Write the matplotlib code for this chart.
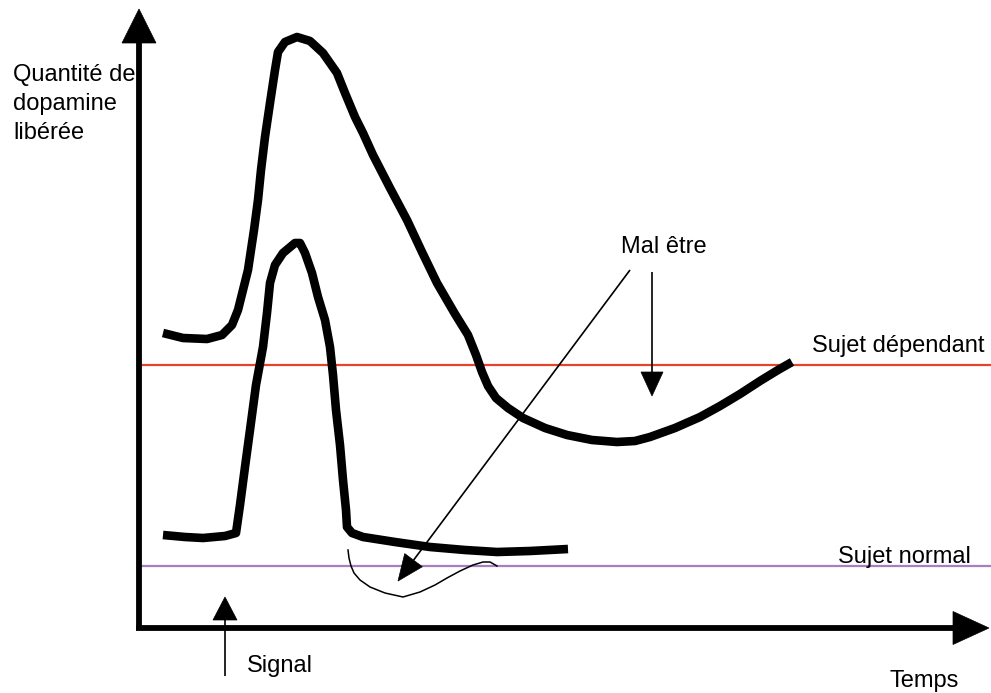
import matplotlib
matplotlib.use("Agg")
import matplotlib.pyplot as plt
from matplotlib.patches import Polygon
import numpy as np

# ---- data (pixel space of the 991x693 sketch) ----
dep_x = [163, 183, 207, 222, 232, 238, 243, 248, 251, 254, 258, 261, 265, 270, 275, 278, 285, 297, 310, 323, 337, 345, 355, 363, 373, 390, 407, 422, 437, 455, 468, 476, 482, 488, 496, 508, 523, 545, 567, 592, 617, 635, 650, 675, 700, 720, 740, 760, 778, 792]
dep_y = [333, 338, 339, 335, 325, 310, 290, 270, 250, 230, 200, 170, 137, 103, 70, 52, 42, 37, 41, 53, 73, 93, 117, 133, 155, 188, 220, 252, 283, 314, 335, 355, 372, 386, 398, 408, 418, 428, 435, 440, 442, 441, 437, 428, 417, 406, 394, 381, 370, 362]

norm_x = [163, 185, 203, 225, 236, 240, 245, 250, 256, 263, 267, 270, 275, 283, 295, 300, 305, 312, 318, 325, 330, 333, 336, 340, 343, 346, 347, 352, 363, 395, 430, 465, 497, 530, 568]
norm_y = [535, 537, 538, 536, 533, 505, 467, 430, 385, 347, 313, 283, 265, 253, 243, 243, 253, 273, 297, 320, 347, 375, 410, 445, 480, 510, 527, 533, 537, 542, 547, 550, 552, 551, 549]

wiggle_x = [348, 349, 351, 354, 360, 370, 385, 403, 420, 435, 447, 460, 473, 483, 490, 497]
wiggle_y = [550, 558, 566, 573, 580, 587, 593, 597, 592, 585, 578, 571, 565, 562, 562, 566]

level_dependant = 365
level_normal = 566
line_x_range = [138, 991]

y_axis = {"x": 139, "y0": 630, "tip": 9}
x_axis = {"y": 628, "x0": 136, "tip": 989}

arrow_diag = [(630, 270), (398, 581)]
arrow_vert = [(652, 272), (652, 396)]
arrow_signal = [(225, 676), (225, 597)]

label_y = "Quantité de\ndopamine\nlibérée"
label_x = "Temps"
label_mal = "Mal être"
label_dep = "Sujet dépendant"
label_norm = "Sujet normal"
label_signal = "Signal"

# ---- figure ----
W, H = 991, 693
fig = plt.figure(figsize=(W / 100, H / 100), dpi=100)
ax = fig.add_axes([0, 0, 1, 1])
ax.set_xlim(0, W)
ax.set_ylim(H, 0)
ax.axis("off")

FONT = "Liberation Sans"
FS = 17


def arrow(ax, p0, p1, hl, hw, lw, color="black"):
    p0 = np.asarray(p0, float)
    p1 = np.asarray(p1, float)
    d = p1 - p0
    d /= np.hypot(*d)
    n = np.array([-d[1], d[0]])
    base = p1 - d * hl
    ax.plot([p0[0], base[0]], [p0[1], base[1]], color=color, lw=lw,
            solid_capstyle="butt", zorder=5)
    tri = [p1, base + n * hw / 2, base - n * hw / 2]
    ax.add_patch(Polygon(tri, closed=True, facecolor=color, edgecolor=color,
                         lw=0.5, zorder=5))


# reference levels
ax.plot(line_x_range, [level_dependant] * 2, color="#e8412c", lw=1.6, zorder=2)
ax.plot(line_x_range, [level_normal] * 2, color="#a97dc2", lw=1.6, zorder=2)

# axes arrows
arrow(ax, (y_axis["x"], y_axis["y0"]), (y_axis["x"], y_axis["tip"]), 34, 34, 4.2)
arrow(ax, (x_axis["x0"], x_axis["y"]), (x_axis["tip"], x_axis["y"]), 36, 33, 4.2)

# curves
ax.plot(dep_x, dep_y, color="black", lw=6.2, solid_capstyle="butt",
        solid_joinstyle="round", zorder=4)
ax.plot(norm_x, norm_y, color="black", lw=6.2, solid_capstyle="butt",
        solid_joinstyle="round", zorder=4)
ax.plot(wiggle_x, wiggle_y, color="black", lw=1.1, zorder=4)

# thin arrows
arrow(ax, *arrow_diag, 26, 22, 1.2)
arrow(ax, *arrow_vert, 24, 22, 1.2)
arrow(ax, *arrow_signal, 23, 24, 1.2)

# labels
ax.text(13, 64, label_y, family=FONT, fontsize=FS, va="top", ha="left",
        linespacing=1.4, zorder=1)
ax.text(664, 253, label_mal, family=FONT, fontsize=FS, va="baseline", ha="center")
ax.text(812, 352, label_dep, family=FONT, fontsize=FS, va="baseline", ha="left")
ax.text(838, 563, label_norm, family=FONT, fontsize=FS, va="baseline", ha="left")
ax.text(247, 672, label_signal, family=FONT, fontsize=FS, va="baseline", ha="left")
ax.text(890, 687, label_x, family=FONT, fontsize=FS, va="baseline", ha="left")

fig.savefig("out.png", dpi=100, facecolor="white")
